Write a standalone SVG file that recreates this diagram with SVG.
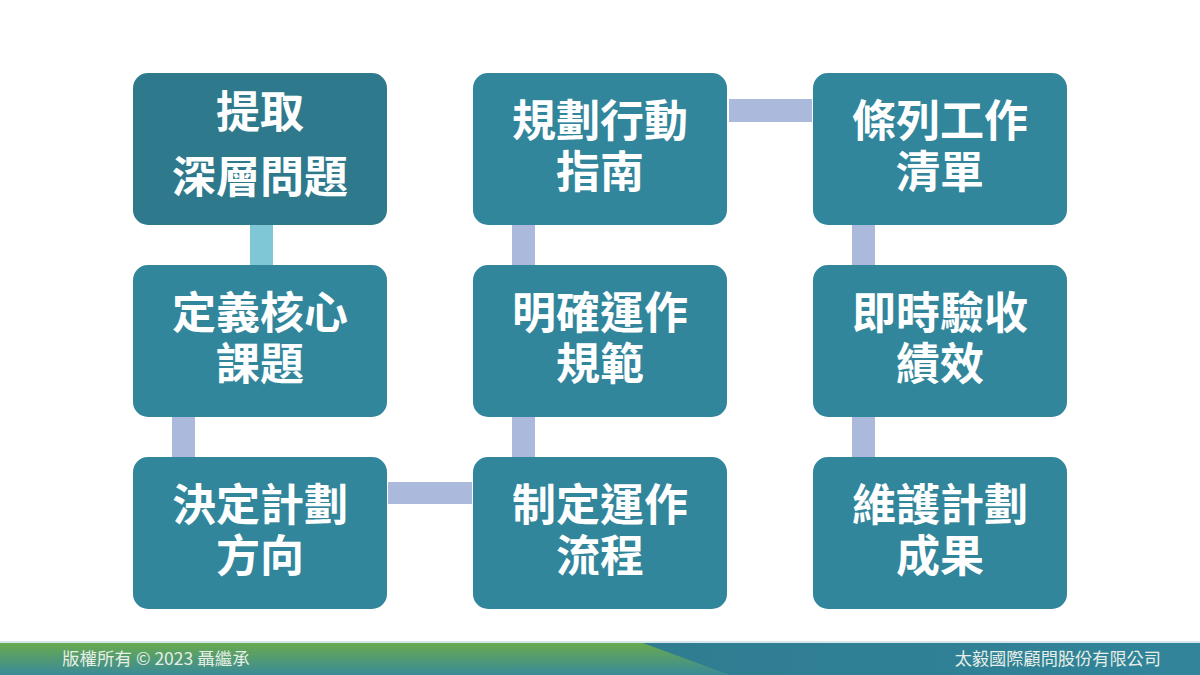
<svg xmlns="http://www.w3.org/2000/svg" width="1200" height="675" viewBox="0 0 1200 675">
<defs>
<linearGradient id="gl" x1="0" y1="0" x2="0" y2="1">
<stop offset="0" stop-color="#6aab4c"/>
<stop offset="1" stop-color="#3a8a98"/>
</linearGradient>
<linearGradient id="gr" x1="0" y1="0" x2="1" y2="0">
<stop offset="0" stop-color="#2d7485"/>
<stop offset="1" stop-color="#31849a"/>
</linearGradient>
<style>
.box{fill:#31869b;}
.dark{fill:#2e7a8c;}
.t{font-family:"Noto Sans CJK TC","Noto Sans CJK SC",sans-serif;font-weight:600;font-size:44px;fill:#ffffff;text-anchor:middle;}
.c{fill:#abb9dc;}
.c1{fill:#7fc6d6;}
.ft{font-family:"Noto Sans CJK TC","Noto Sans CJK SC",sans-serif;font-size:17.5px;fill:#e6eee6;}
</style>
</defs>
<rect width="1200" height="675" fill="#ffffff"/>
<g id="connectors">
<rect class="c1" x="250" y="224" width="23" height="43"/>
<rect class="c" x="172" y="416" width="23" height="43"/>
<rect class="c" x="388" y="482" width="84" height="22"/>
<rect class="c" x="512" y="416" width="23" height="43"/>
<rect class="c" x="512" y="224" width="23" height="43"/>
<rect class="c" x="729" y="99" width="83" height="23"/>
<rect class="c" x="852" y="224" width="23" height="43"/>
<rect class="c" x="852" y="416" width="23" height="43"/>
</g>
<g id="n1"><rect class="dark" x="133" y="73" width="254" height="152" rx="15"/><text class="t"><tspan x="260" y="128">提取</tspan><tspan x="260" y="193">深層問題</tspan></text></g>
<g id="n2"><rect class="box" x="133" y="265" width="254" height="152" rx="15"/><text class="t"><tspan x="260" y="329">定義核心</tspan><tspan x="260" y="380">課題</tspan></text></g>
<g id="n3"><rect class="box" x="133" y="457" width="254" height="152" rx="15"/><text class="t"><tspan x="260" y="521">決定計劃</tspan><tspan x="260" y="572">方向</tspan></text></g>
<g id="n4"><rect class="box" x="473" y="457" width="254" height="152" rx="15"/><text class="t"><tspan x="600" y="521">制定運作</tspan><tspan x="600" y="572">流程</tspan></text></g>
<g id="n5"><rect class="box" x="473" y="265" width="254" height="152" rx="15"/><text class="t"><tspan x="600" y="329">明確運作</tspan><tspan x="600" y="380">規範</tspan></text></g>
<g id="n6"><rect class="box" x="473" y="73" width="254" height="152" rx="15"/><text class="t"><tspan x="600" y="137">規劃行動</tspan><tspan x="600" y="188">指南</tspan></text></g>
<g id="n7"><rect class="box" x="813" y="73" width="254" height="152" rx="15"/><text class="t"><tspan x="940" y="137">條列工作</tspan><tspan x="940" y="188">清單</tspan></text></g>
<g id="n8"><rect class="box" x="813" y="265" width="254" height="152" rx="15"/><text class="t"><tspan x="940" y="329">即時驗收</tspan><tspan x="940" y="380">績效</tspan></text></g>
<g id="n9"><rect class="box" x="813" y="457" width="254" height="152" rx="15"/><text class="t"><tspan x="940" y="521">維護計劃</tspan><tspan x="940" y="572">成果</tspan></text></g>
<g id="footer">
<rect x="0" y="642" width="1200" height="33" fill="url(#gr)"/>
<polygon points="0,642 640,642 730,675 0,675" fill="url(#gl)"/>
<rect x="0" y="641" width="1200" height="2" fill="#d6e6ea"/>
<text class="ft" x="62" y="665">版權所有 © 2023 聶繼承</text>
<text class="ft" x="1161" y="665" text-anchor="end" style="font-size:17.2px">太毅國際顧問股份有限公司</text>
</g>
</svg>
